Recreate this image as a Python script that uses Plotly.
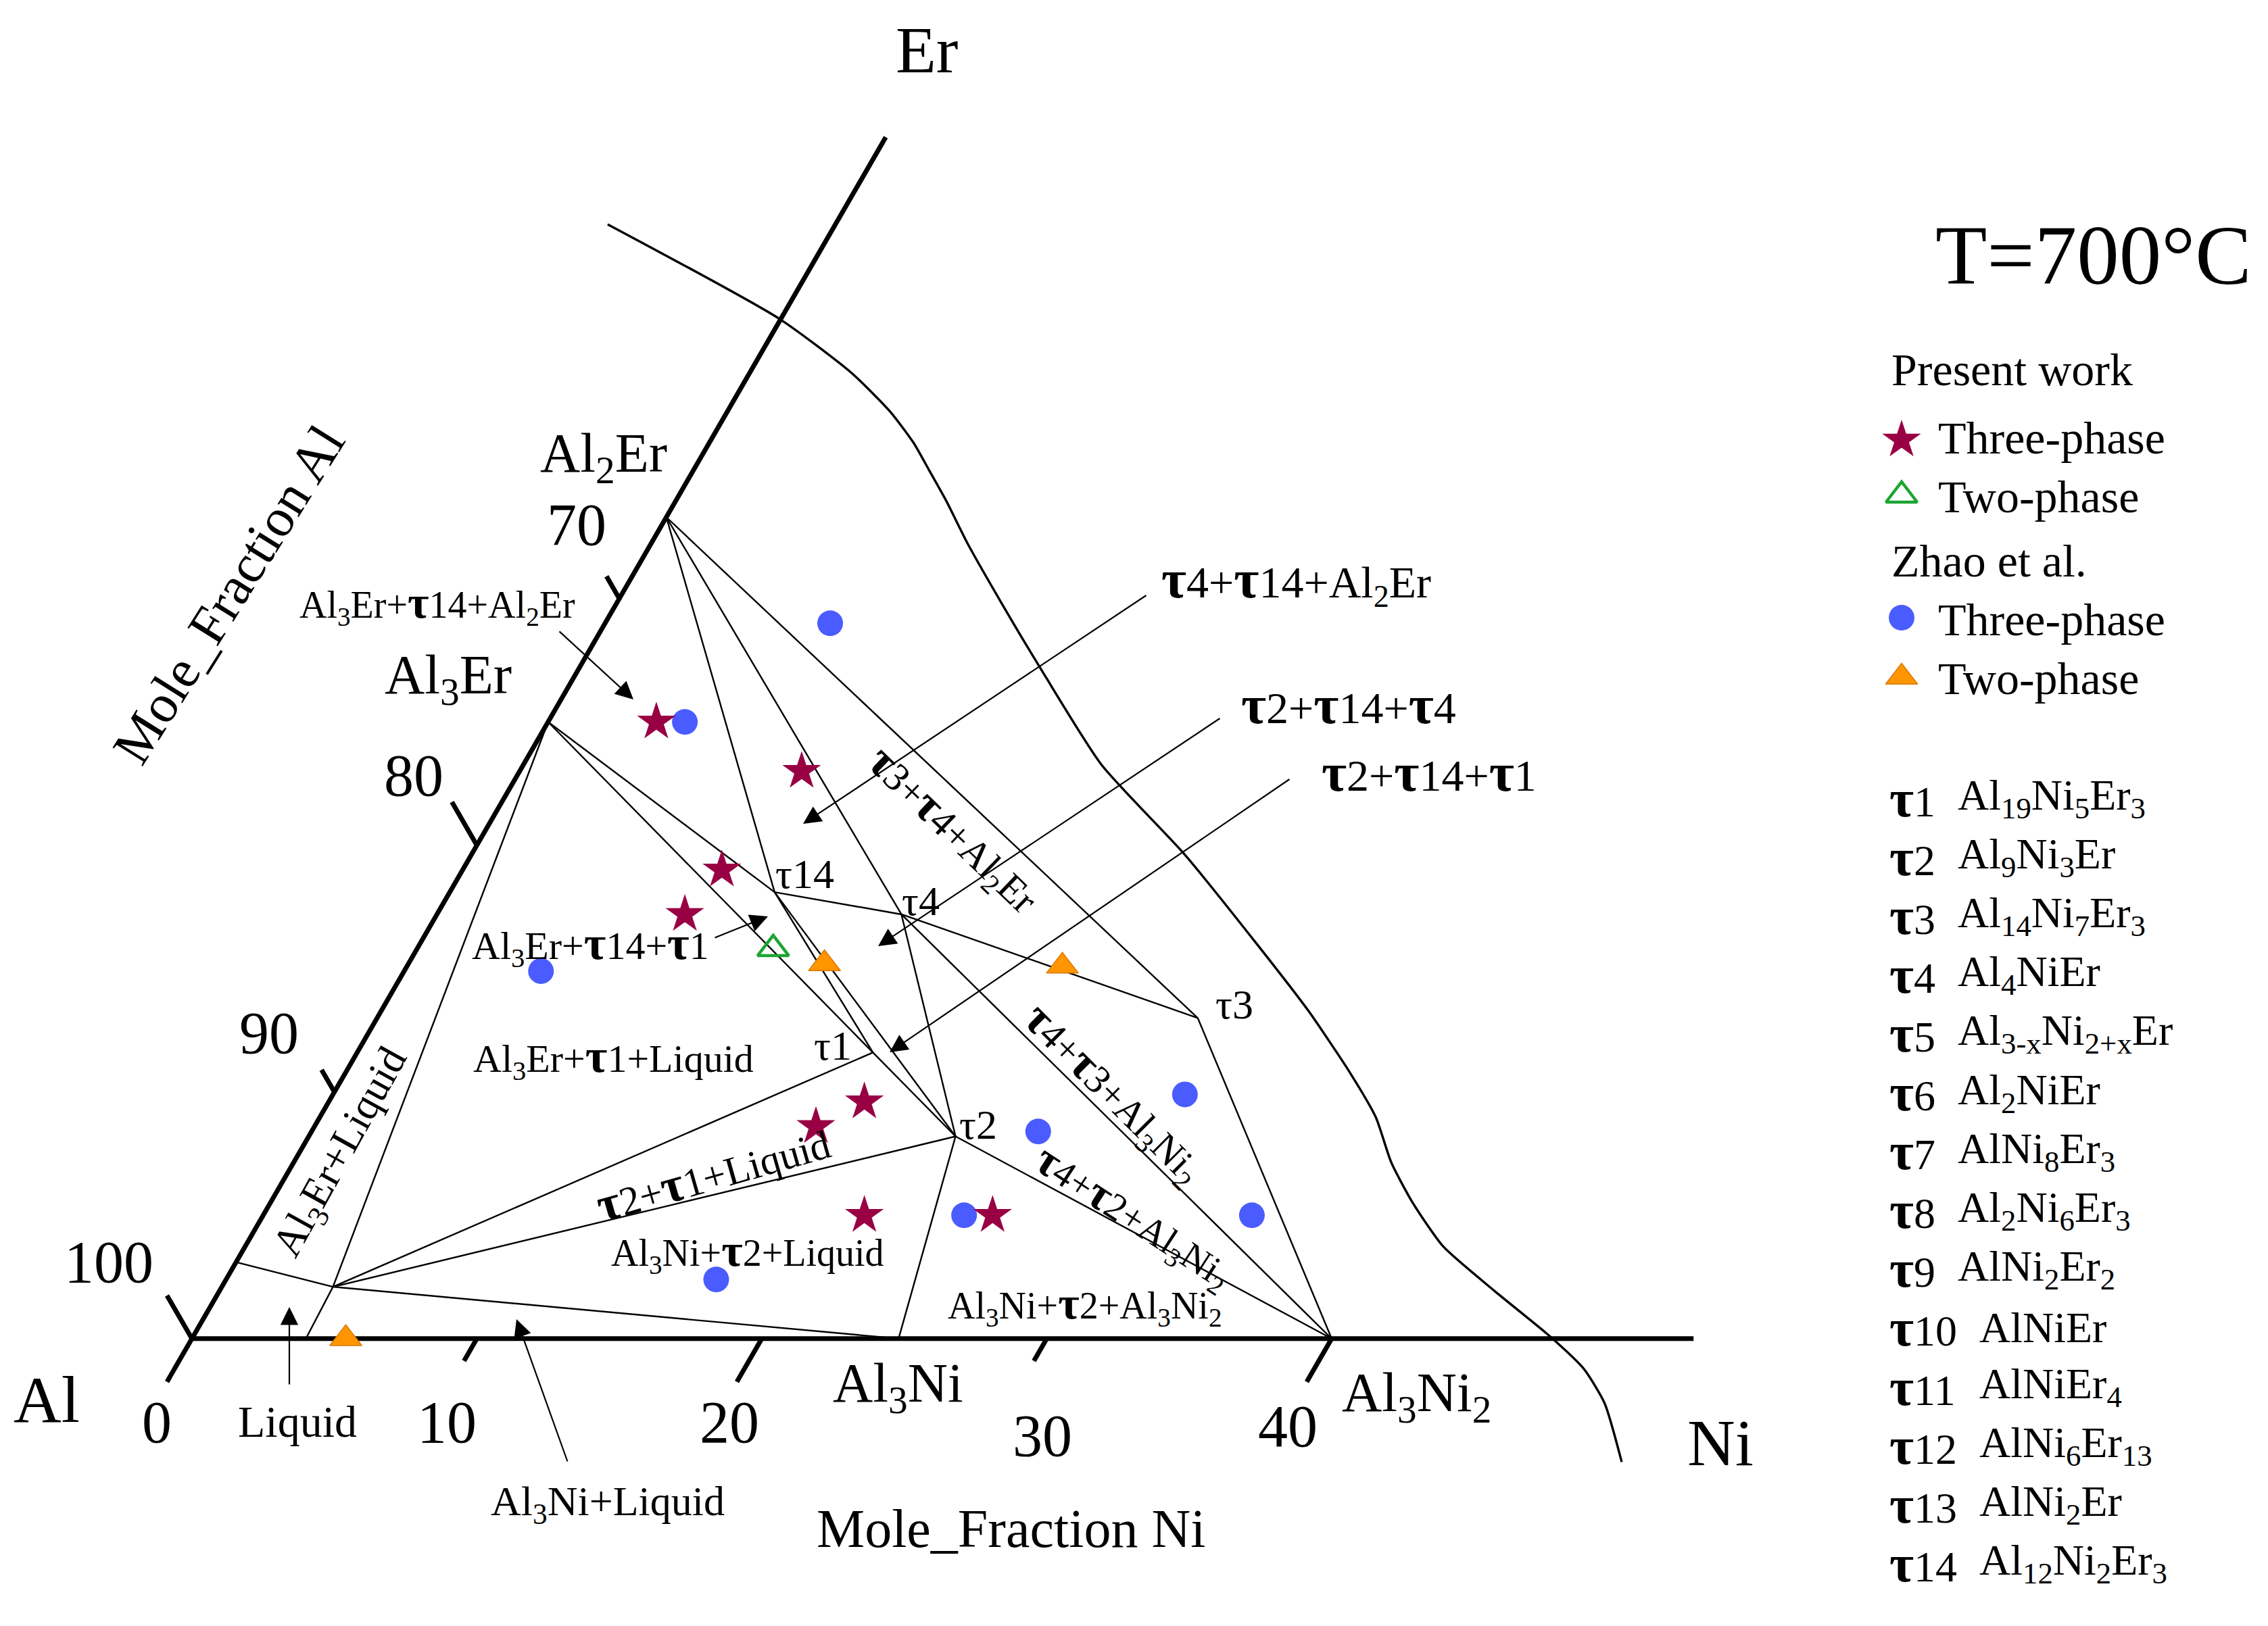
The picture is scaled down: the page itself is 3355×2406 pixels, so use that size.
import math
import plotly.graph_objects as go

# ---------------- data (compositions in at.% Ni, at.% Er) ----------------
phase_names = ["Al3Er", "Al2Er", "Al3Ni", "Al3Ni2", "t1", "t2", "t3", "t4", "t14", "Liq", "LiqEr", "LiqNi"]
phase_ni = [0.0, 0.0, 24.8, 40.0, 18.1, 22.7, 28.8, 16.3, 11.4, 3.9, 0.0, 4.0]
phase_er = [25.0, 33.3, 0.0, 0.0, 11.6, 8.2, 13.0, 17.2, 18.1, 2.1, 3.1, 0.0]

tie_from = ["Al3Er", "Liq", "Liq", "Liq", "Liq", "Liq", "Al3Er", "Al3Er", "Al2Er", "Al2Er", "Al2Er",
            "t14", "t14", "t14", "t1", "t4", "t4", "t4", "t2", "t2", "t3"]
tie_to = ["Liq", "LiqEr", "LiqNi", "t1", "t2", "Al3Ni", "t1", "t14", "t14", "t4", "t3",
          "t4", "t1", "t2", "t2", "t2", "t3", "Al3Ni2", "Al3Ni2", "Al3Ni", "Al3Ni2"]

pw_three_ni = [3.8, 9.9, 9.1, 8.7, 18.8, 17.6, 21.1, 25.6]
pw_three_er = [25.0, 23.0, 19.0, 17.2, 9.6, 8.6, 5.0, 5.0]
pw_two_ni = [12.5]
pw_two_er = [15.8]
zhao_three_ni = [7.9, 4.8, 4.8, 25.5, 29.9, 24.6, 34.7, 17.2]
zhao_three_er = [29.0, 25.0, 14.9, 8.4, 9.9, 5.0, 5.0, 2.4]
zhao_two_ni = [14.6, 23.0, 5.4]
zhao_two_er = [15.2, 15.1, 0.0]

ni_ticks = [0, 10, 20, 30, 40]
ni_tick_labels = ["0", "10", "20", "30", "40"]
al_ticks = [100, 90, 80, 70]
al_tick_labels = ["100", "90", "80", "70"]
ni_axis_max = 52.7
er_axis_max = 48.7

# outer boundary curve (cartesian diagram units)
boundary_x = [14.59, 20.62, 23.14, 24.50, 25.32, 25.86, 26.48, 27.22, 28.52, 29.74, 31.92, 34.83,
              37.37, 39.19, 40.64, 41.55, 42.09, 42.82, 43.91, 45.72, 47.65, 48.85, 49.58, 50.18]
boundary_y = [39.12, 35.80, 33.91, 32.55, 31.46, 30.51, 29.40, 27.92, 25.64, 23.60, 20.15, 17.01,
              13.86, 11.50, 9.34, 7.77, 6.19, 4.81, 3.24, 1.67, 0.09, -1.06, -2.27, -4.33]

tau_ids = ["1", "2", "3", "4", "5", "6", "7", "8", "9", "10", "11", "12", "13", "14"]
tau_formulas = [
    "Al<sub>19</sub>Ni<sub>5</sub>Er<sub>3</sub>",
    "Al<sub>9</sub>Ni<sub>3</sub>Er",
    "Al<sub>14</sub>Ni<sub>7</sub>Er<sub>3</sub>",
    "Al<sub>4</sub>NiEr",
    "Al<sub>3-x</sub>Ni<sub>2+x</sub>Er",
    "Al<sub>2</sub>NiEr",
    "AlNi<sub>8</sub>Er<sub>3</sub>",
    "Al<sub>2</sub>Ni<sub>6</sub>Er<sub>3</sub>",
    "AlNi<sub>2</sub>Er<sub>2</sub>",
    "AlNiEr",
    "AlNiEr<sub>4</sub>",
    "AlNi<sub>6</sub>Er<sub>13</sub>",
    "AlNi<sub>2</sub>Er",
    "Al<sub>12</sub>Ni<sub>2</sub>Er<sub>3</sub>",
]

# ---------------- geometry helpers ----------------
W, H = 3355, 2406
OX, OY = 283.9, 1980.8      # pixel position of the Al corner
UNIT = 42.15                # pixels per at.%
S3 = math.sqrt(3) / 2
FONT = "Liberation Serif"


def tern(ni, er):
    return ni + er / 2.0, er * S3


def px2d(px, py):
    return (px - OX) / UNIT, (OY - py) / UNIT


phase = {n: tern(a, b) for n, a, b in zip(phase_names, phase_ni, phase_er)}

fig = go.Figure()

# tie lines
lx, ly = [], []
for a, b in zip(tie_from, tie_to):
    lx += [phase[a][0], phase[b][0], None]
    ly += [phase[a][1], phase[b][1], None]
fig.add_trace(go.Scatter(x=lx, y=ly, mode="lines", line=dict(color="black", width=2.4),
                         hoverinfo="skip", showlegend=False))

# boundary curve
fig.add_trace(go.Scatter(x=boundary_x, y=boundary_y, mode="lines",
                         line=dict(color="black", width=3.4, shape="spline", smoothing=0.6),
                         hoverinfo="skip", showlegend=False))

# axes
p0 = tern(0, 0)
p1 = tern(ni_axis_max, 0)
p2 = tern(0, er_axis_max)
fig.add_trace(go.Scatter(x=[p1[0], p0[0], p2[0]], y=[p1[1], p0[1], p2[1]], mode="lines",
                         line=dict(color="black", width=7), hoverinfo="skip", showlegend=False))

tx, ty = [], []
for v in ni_ticks:
    L = 1.75 if v % 20 == 0 else 0.9
    sx, sy = tern(v, 0)
    tx += [sx, sx - 0.5 * L, None]
    ty += [sy, sy - S3 * L, None]
for al in al_ticks:
    L = 1.75 if al % 20 == 0 else 0.9
    sx, sy = tern(0, 100 - al)
    tx += [sx, sx - 0.5 * L, None]
    ty += [sy, sy + S3 * L, None]
fig.add_trace(go.Scatter(x=tx, y=ty, mode="lines", line=dict(color="black", width=7),
                         hoverinfo="skip", showlegend=False))


def pts(nis, ers):
    xy = [tern(a, b) for a, b in zip(nis, ers)]
    return [p[0] for p in xy], [p[1] for p in xy]


STAR = dict(symbol="star", size=43, color="#990044", line=dict(width=0))
OPEN_TRI = dict(symbol="triangle-up-open", size=40, color="#1BA532", line=dict(width=4.5, color="#1BA532"))
CIRCLE = dict(symbol="circle", size=38, color="#4A5CFF", line=dict(width=0))
TRI = dict(symbol="triangle-up", size=41, color="#FF9500", line=dict(width=1.5, color="#D97A00"))

x, y = pts(zhao_three_ni, zhao_three_er)
fig.add_trace(go.Scatter(x=x, y=y, mode="markers", marker=CIRCLE, showlegend=False, name="Zhao three-phase"))
x, y = pts(zhao_two_ni, zhao_two_er)
fig.add_trace(go.Scatter(x=x, y=y, mode="markers", marker=TRI, showlegend=False, name="Zhao two-phase"))
x, y = pts(pw_three_ni, pw_three_er)
fig.add_trace(go.Scatter(x=x, y=y, mode="markers", marker=STAR, showlegend=False, name="Present three-phase"))
x, y = pts(pw_two_ni, pw_two_er)
fig.add_trace(go.Scatter(x=x, y=y, mode="markers", marker=OPEN_TRI, showlegend=False, name="Present two-phase"))

# legend symbols
for mk, (px, py) in [(STAR, (2813, 651)), (OPEN_TRI, (2813, 733)), (CIRCLE, (2813, 914)), (TRI, (2813, 1002))]:
    xx, yy = px2d(px, py)
    fig.add_trace(go.Scatter(x=[xx], y=[yy], mode="markers", marker=mk, showlegend=False, hoverinfo="skip"))

annotations = []


def txt(s, px, py, size, angle=0, xanchor="center"):
    xx, yy = px2d(px, py)
    annotations.append(dict(text=s, x=xx, y=yy, xref="x", yref="y", showarrow=False,
                            font=dict(size=size, family=FONT, color="black"),
                            textangle=angle, xanchor=xanchor, yanchor="middle"))


def arrow(tail, head):
    hx, hy = px2d(*head)
    tx_, ty_ = px2d(*tail)
    annotations.append(dict(x=hx, y=hy, ax=tx_, ay=ty_, xref="x", yref="y", axref="x", ayref="y",
                            text="", showarrow=True, arrowhead=2, arrowsize=2.4, arrowwidth=2.2,
                            arrowcolor="black", standoff=0))


T = '<span style="font-size:1.22em"><b>τ</b></span>'

# corner / axis names
txt("Er", 1371, 74, 98)
txt("Al", 69, 2071, 98)
txt("Ni", 2545, 2135, 98)
txt("Mole_Fraction Al", 338, 880, 80, angle=-58)
txt("Mole_Fraction Ni", 1495, 2262, 80)
txt("T=700°C", 3097, 378, 125)

# tick labels
for lab, (px, py) in zip(ni_tick_labels, [(232, 2104), (661, 2104), (1079, 2104), (1542, 2124), (1905, 2110)]):
    txt(lab, px, py, 88)
for lab, (px, py) in zip(al_tick_labels, [(161, 1867), (398, 1528), (612, 1147), (853, 776)]):
    txt(lab, px, py, 88)

# phase labels
txt("Al<sub>2</sub>Er", 893, 676, 82)
txt("Al<sub>3</sub>Er", 663, 1004, 82)
txt("Al<sub>3</sub>Ni", 1328, 2052, 82)
txt("Al<sub>3</sub>Ni<sub>2</sub>", 2095, 2066, 82)
txt("τ14", 1190, 1293, 62)
txt("τ4", 1362, 1333, 62)
txt("τ1", 1232, 1547, 62)
txt("τ2", 1447, 1664, 62)
txt("τ3", 1826, 1486, 62)

# region labels
txt("Al<sub>3</sub>Er+" + T + "14+Al<sub>2</sub>Er", 647, 893, 56)
txt(T + "4+" + T + "14+Al<sub>2</sub>Er", 1917, 860, 66)
txt(T + "2+" + T + "14+" + T + "4", 1995, 1042, 66)
txt(T + "2+" + T + "14+" + T + "1", 2114, 1142, 66)
txt(T + "3+" + T + "4+Al<sub>2</sub>Er", 1410, 1228, 58, angle=44)
txt("Al<sub>3</sub>Er+" + T + "14+" + T + "1", 873, 1398, 58)
txt("Al<sub>3</sub>Er+" + T + "1+Liquid", 907, 1565, 58)
txt("Al<sub>3</sub>Er+Liquid", 505, 1706, 62, angle=-61)
txt(T + "2+" + T + "1+Liquid", 1054, 1736, 60, angle=-16)
txt("Al<sub>3</sub>Ni+" + T + "2+Liquid", 1106, 1852, 56)
txt("Al<sub>3</sub>Ni+" + T + "2+Al<sub>3</sub>Ni<sub>2</sub>", 1604, 1930, 56)
txt(T + "4+" + T + "3+Al<sub>3</sub>Ni<sub>2</sub>", 1647, 1618, 58, angle=45)
txt(T + "4+" + T + "2+Al<sub>3</sub>Ni<sub>2</sub>", 1677, 1800, 56, angle=33)
txt("Liquid", 440, 2103, 66)
txt("Al<sub>3</sub>Ni+Liquid", 899, 2225, 62)

# arrows
arrow((826, 933), (937, 1035))
arrow((1697, 880), (1188, 1219))
arrow((1806, 1062), (1299, 1400))
arrow((1909, 1152), (1316, 1557))
arrow((1056, 1388), (1136, 1356))
arrow((428, 2050), (428, 1934))
arrow((840, 2164), (764, 1952))

# legend text
txt("Present work", 2796, 547, 68, xanchor="left")
txt("Three-phase", 2865, 648, 68, xanchor="left")
txt("Two-phase", 2865, 735, 68, xanchor="left")
txt("Zhao et al.", 2796, 830, 68, xanchor="left")
txt("Three-phase", 2865, 917, 68, xanchor="left")
txt("Two-phase", 2865, 1004, 68, xanchor="left")

row0, step = 1181, 87.1
for i, (tid, form) in enumerate(zip(tau_ids, tau_formulas)):
    yy = row0 + i * step
    txt(T + tid, 2793, yy, 64, xanchor="left")
    fx = 2894 if len(tid) == 1 else 2926
    txt(form, fx, yy, 64, xanchor="left")

x0, _ = px2d(0, 0)
x1, _ = px2d(W, 0)
_, yb = px2d(0, H)
_, yt = px2d(0, 0)

fig.update_layout(
    width=W, height=H,
    margin=dict(l=0, r=0, t=0, b=0),
    paper_bgcolor="white", plot_bgcolor="white",
    xaxis=dict(range=[x0, x1], visible=False, fixedrange=True),
    yaxis=dict(range=[yb, yt], visible=False, fixedrange=True),
    annotations=annotations,
    showlegend=False,
    font=dict(family=FONT, color="black"),
)

fig.write_html("out.html", config={"displayModeBar": False},
               post_script="document.body.style.margin='0';document.body.style.overflow='hidden';")
